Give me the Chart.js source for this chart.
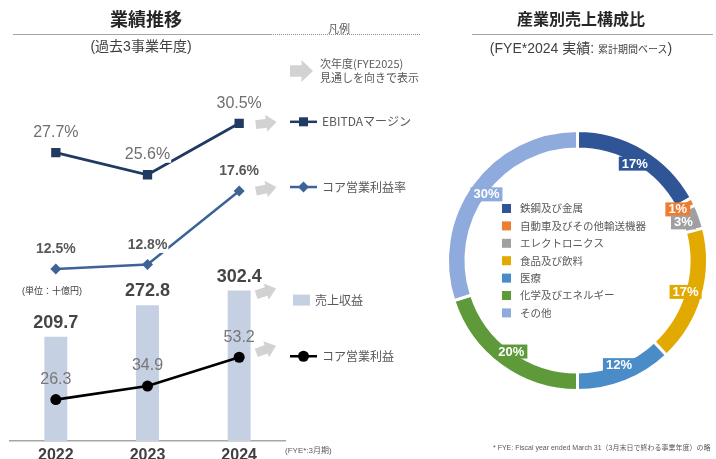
<!DOCTYPE html>
<html lang="ja">
<head>
<meta charset="utf-8">
<script src="https://cdn.jsdelivr.net/npm/chart.js@4.4.1/dist/chart.umd.min.js"></script>
<style>
  body { margin: 0; width: 716px; height: 459px; overflow: hidden; background: #fff;
         font-family: "Liberation Sans", "Noto Sans CJK JP", sans-serif; color: #404040; }
  .t { position: absolute; white-space: nowrap; }
  .c { transform: translateX(-50%); }
  .rule { position: absolute; height: 0; }
  #left { position: absolute; left: 0; top: 0; }
  #right { position: absolute; left: 440px; top: 0; }
</style>
</head>
<body>
<canvas id="left" width="440" height="459"></canvas>
<canvas id="right" width="276" height="459"></canvas>

<!-- 見出し -->
<div class="t c" style="left:146px;top:8px;font-size:18px;line-height:24px;font-weight:bold;color:#262626">業績推移</div>
<div class="rule" style="left:13px;top:34px;width:259px;border-top:1.5px solid #a6a6a6"></div>
<div class="t c" style="left:141px;top:37px;font-size:14px;line-height:18px">(過去3事業年度)</div>
<div class="t c" style="left:339px;top:22px;font-size:11px;line-height:14px;color:#595959">凡例</div>
<div class="rule" style="left:273px;top:34px;width:147px;border-top:1px dotted #8c8c8c"></div>

<div class="t c" style="left:581px;top:9px;font-size:16px;line-height:22px;font-weight:bold;color:#262626">産業別売上構成比</div>
<div class="rule" style="left:472px;top:34px;width:241px;border-top:1.5px solid #a6a6a6"></div>
<div class="t c" style="left:581px;top:39px;font-size:14px;line-height:18px">(FYE*2024 実績: <span style="font-size:10px">累計期間ベース</span>)</div>

<div class="t" style="left:22px;top:285px;font-size:9px;line-height:13px;color:#404040">(単位：十億円)</div>
<div class="t" style="left:285px;top:445px;font-size:8px;line-height:12px;color:#595959">(FYE*:3月期)</div>
<div class="t" style="left:493px;top:443px;font-size:7px;line-height:10px;color:#595959">* FYE: Fiscal year ended March 31（3月末日で終わる事業年度）の略</div>

<script>
// 業績推移（過去3事業年度）
const years = ['2022', '2023', '2024'];
const revenue = [209.7, 272.8, 302.4];        // 売上収益（十億円）
const coreProfit = [26.3, 34.9, 53.2];        // コア営業利益（十億円）
const ebitdaMargin = [27.7, 25.6, 30.5];      // EBITDAマージン（%）
const coreMargin = [12.5, 12.8, 17.6];        // コア営業利益率（%）

// 産業別売上構成比（FYE2024）
const sectors = ['鉄鋼及び金属', '自動車及びその他輸送機器', 'エレクトロニクス', '食品及び飲料', '医療', '化学及びエネルギー', 'その他'];
const sectorShare = [17, 1, 3, 17, 12, 20, 30];
const sectorColors = ['#2f5597', '#ed7d31', '#a0a0a0', '#e2a900', '#4a8cc8', '#5f9a3a', '#8faadc'];

const LATIN = '"Liberation Sans", "Noto Sans CJK JP", sans-serif';
const JP = '"Noto Sans CJK JP", sans-serif';
const ARROW_GRAY = '#d2d2d2';

// 右向きのブロック矢印
function blockArrow(ctx, cx, cy, len, h, angle) {
    const bodyH = h * 0.52, headL = len * 0.5;
    ctx.save();
    ctx.translate(cx, cy);
    ctx.rotate(angle);
    ctx.beginPath();
    ctx.moveTo(-len / 2, -bodyH / 2);
    ctx.lineTo(len / 2 - headL, -bodyH / 2);
    ctx.lineTo(len / 2 - headL, -h / 2);
    ctx.lineTo(len / 2, 0);
    ctx.lineTo(len / 2 - headL, h / 2);
    ctx.lineTo(len / 2 - headL, bodyH / 2);
    ctx.lineTo(-len / 2, bodyH / 2);
    ctx.closePath();
    ctx.fillStyle = ARROW_GRAY;
    ctx.fill();
    ctx.restore();
}

function legendMarker(ctx, style, x, y, color) {
    ctx.fillStyle = color;
    ctx.beginPath();
    if (style === 'rect') {
        ctx.rect(x - 4.5, y - 4.5, 9, 9);
    } else if (style === 'rectRot') {
        ctx.moveTo(x - 5.5, y); ctx.lineTo(x, y - 5.5); ctx.lineTo(x + 5.5, y); ctx.lineTo(x, y + 5.5);
        ctx.closePath();
    } else {
        ctx.arc(x, y, 5.5, 0, Math.PI * 2);
    }
    ctx.fill();
}

// 数値ラベル・次年度矢印・凡例
const leftDecor = {
    id: 'leftDecor',
    afterDatasetsDraw(chart) {
        const ctx = chart.ctx;
        ctx.save();

        // 凡例：次年度見通しの矢印
        blockArrow(ctx, 301.5, 71, 23, 22, 0);
        ctx.fillStyle = '#595959';
        ctx.font = '11px ' + JP;
        ctx.textAlign = 'left';
        ctx.textBaseline = 'middle';
        ctx.fillText('次年度(FYE2025)', 320, 64);
        ctx.fillText('見通しを向きで表示', 320, 78);

        chart.data.datasets.forEach((ds, i) => {
            const meta = chart.getDatasetMeta(i);
            const lab = ds.valueLabel;
            ctx.font = lab.font;
            ctx.textAlign = 'center';
            ctx.textBaseline = 'middle';
            meta.data.forEach((el, j) => {
                const txt = ds.data[j].toFixed(1) + lab.suffix;
                const y = el.y - lab.gap;
                if (lab.box) {
                    const w = ctx.measureText(txt).width + 2;
                    ctx.fillStyle = '#fff';
                    ctx.fillRect(el.x - w / 2, y - 8, w, 16);
                }
                ctx.fillStyle = lab.color;
                ctx.fillText(txt, el.x, y);
            });

            // 2024年度の右に次年度矢印
            const last = meta.data[meta.data.length - 1];
            blockArrow(ctx, last.x + 27, last.y + ds.arrow.dy, 21, 17, ds.arrow.tilt);

            // 凡例項目
            const ly = last.y + ds.legendDy;
            if (ds.type === 'line') {
                ctx.strokeStyle = ds.borderColor;
                ctx.lineWidth = 2.5;
                ctx.beginPath();
                ctx.moveTo(290, ly);
                ctx.lineTo(317, ly);
                ctx.stroke();
                legendMarker(ctx, ds.pointStyle, 303.5, ly, ds.pointBackgroundColor);
            } else {
                ctx.fillStyle = ds.backgroundColor;
                ctx.fillRect(293, ly - 5.5, 17, 11);
            }
            ctx.fillStyle = '#595959';
            ctx.font = '12px ' + JP;
            ctx.textAlign = 'left';
            ctx.textBaseline = 'middle';
            ctx.fillText(ds.label, ds.type === 'line' ? 322 : 315, ly);
        });
        ctx.restore();
    }
};

new Chart(document.getElementById('left'), {
    type: 'bar',
    data: {
        labels: years,
        datasets: [
            {
                type: 'line', label: 'EBITDAマージン', data: ebitdaMargin, yAxisID: 'yEbitda', order: 1,
                borderColor: '#213a63', borderWidth: 2.8, pointStyle: 'rect', pointRadius: 6.6,
                pointBackgroundColor: '#213a63', pointBorderWidth: 0,
                valueLabel: { font: '16px ' + LATIN, color: '#6f6f6f', suffix: '%', gap: 20, box: true },
                arrow: { dy: 0, tilt: -0.12 }, legendDy: -1.5
            },
            {
                type: 'line', label: 'コア営業利益率', data: coreMargin, yAxisID: 'yMargin', order: 2,
                borderColor: '#3d6398', borderWidth: 2.5, pointStyle: 'rectRot', pointRadius: 5.5,
                pointBackgroundColor: '#3d6398', pointBorderWidth: 0,
                valueLabel: { font: 'bold 14px ' + LATIN, color: '#595959', suffix: '%', gap: 19.5, box: true },
                arrow: { dy: -2, tilt: -0.2 }, legendDy: -4
            },
            {
                type: 'line', label: 'コア営業利益', data: coreProfit, yAxisID: 'yProfit', order: 3,
                borderColor: '#000', borderWidth: 2.6, pointStyle: 'circle', pointRadius: 5.5,
                pointBackgroundColor: '#000', pointBorderWidth: 0,
                valueLabel: { font: '16px ' + LATIN, color: '#777', suffix: '', gap: 20, box: false },
                arrow: { dy: -8, tilt: -0.35 }, legendDy: -1
            },
            {
                label: '売上収益', data: revenue, yAxisID: 'yBar', order: 10,
                backgroundColor: '#c5d0e3', barPercentage: 0.25, categoryPercentage: 1.0,
                valueLabel: { font: 'bold 18px ' + LATIN, color: '#454545', suffix: '', gap: 14, box: false },
                arrow: { dy: 1, tilt: -0.3 }, legendDy: 9.5
            }
        ]
    },
    options: {
        responsive: false,
        animation: false,
        devicePixelRatio: 1,
        layout: { padding: { left: 10, right: 155, top: 60, bottom: 0 } },
        plugins: { legend: { display: false }, tooltip: { enabled: false } },
        scales: {
            x: {
                grid: { display: false, drawTicks: false },
                border: { display: true, color: '#a6a6a6', width: 1.5 },
                ticks: { color: '#404040', padding: 5, font: { family: LATIN, size: 16, weight: 'bold' } },
                afterFit(axis) { axis.height = 18; }
            },
            yBar: { display: false, min: 0, max: 766 },
            yProfit: { display: false, min: 0, max: 242 },
            yEbitda: { display: false, min: 0.24, max: 36.53 },
            yMargin: { display: false, min: 1.25, max: 26.17 }
        }
    },
    plugins: [leftDecor]
});

// 構成比ラベルとリング内の凡例
const donutDecor = {
    id: 'donutDecor',
    afterDatasetsDraw(chart) {
        const ctx = chart.ctx;
        const meta = chart.getDatasetMeta(0);
        const ds = chart.data.datasets[0];
        ctx.save();
        ctx.font = 'bold 13px ' + LATIN;
        ctx.textAlign = 'center';
        ctx.textBaseline = 'middle';
        meta.data.forEach((arc, i) => {
            const p = arc.getProps(['x', 'y', 'startAngle', 'endAngle', 'innerRadius']);
            const mid = (p.startAngle + p.endAngle) / 2;
            const r = p.innerRadius + 1;
            const x = p.x + Math.cos(mid) * r;
            const y = p.y + Math.sin(mid) * r;
            const txt = ds.data[i] + '%';
            const w = ctx.measureText(txt).width + 6;
            ctx.fillStyle = ds.backgroundColor[i];
            ctx.fillRect(x - w / 2, y - 7, w, 14);
            ctx.fillStyle = '#fff';
            ctx.fillText(txt, x, y + 0.5);
        });

        ctx.font = '10.5px ' + JP;
        ctx.textAlign = 'left';
        chart.data.labels.forEach((name, i) => {
            const y = 208.5 + i * 17.4;
            ctx.fillStyle = ds.backgroundColor[i];
            ctx.fillRect(62, y - 4.5, 9, 9);
            ctx.fillStyle = '#595959';
            ctx.fillText(name, 80, y);
        });
        ctx.restore();
    }
};

new Chart(document.getElementById('right'), {
    type: 'doughnut',
    data: {
        labels: sectors,
        datasets: [{
            data: sectorShare,
            backgroundColor: sectorColors,
            borderColor: '#fff',
            borderWidth: 3,
            cutout: '85.8%'
        }]
    },
    options: {
        responsive: false,
        animation: false,
        devicePixelRatio: 1,
        layout: { padding: { left: 6, right: 7, top: 129, bottom: 67 } },
        plugins: { legend: { display: false }, tooltip: { enabled: false } }
    },
    plugins: [donutDecor]
});
</script>
</body>
</html>
